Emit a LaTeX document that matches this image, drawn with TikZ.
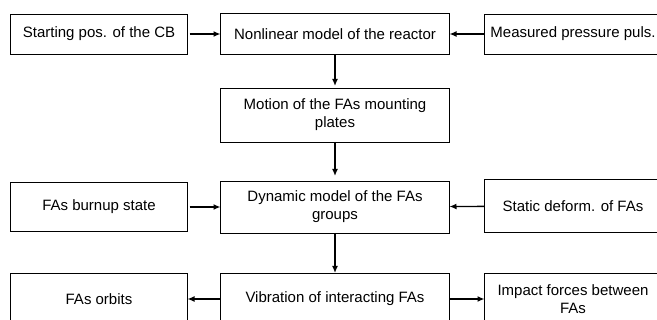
\documentclass[tikz,border=0pt]{standalone}
\usepackage{fontspec}
\setmainfont{Liberation Sans}
\usetikzlibrary{arrows.meta}

\begin{document}
\begin{tikzpicture}[x=1pt, y=-1pt,
    >={Latex[length=7pt,width=6pt]},
    block/.style = {
      draw,
      rectangle,
      align = center,
      inner sep = 2pt,
      outer sep = 0pt,
      line width = 0.9pt,
      font = \fontsize{15}{18}\selectfont
    },
    side/.style = {
      block,
      minimum width = 177pt
    },
    core/.style = {
      block,
      minimum width = 229pt
    },
    link/.style = {
      ->,
      line width = 1.3pt
    }
  ]
  \useasboundingbox (0,0) rectangle (657,320);
  \clip (0,0) rectangle (657,320);

  \node[side, minimum height=40pt] (cb)     at (99,34)  {Starting pos. of the CB};
  \node[core, minimum height=41pt] (model)  at (335,34) {Nonlinear model of the reactor};
  \node[side, minimum height=40pt] (press)  at (573,34) {Measured pressure puls.};

  \node[core, minimum height=54pt] (motion) at (335,115) {Motion of the FAs mounting\\plates};

  \node[side, minimum height=49pt] (burnup) at (99,207)  {FAs burnup state};
  \node[core, minimum height=52pt] (dyn)    at (335,207) {Dynamic model of the FAs\\groups};
  \node[side, minimum height=53pt] (static) at (573,206) {Static deform. of FAs};

  \node[side, minimum height=52pt] (orbits) at (99,299)  {FAs orbits};
  \node[core, minimum height=52pt] (vib)    at (335,299) {Vibration of interacting FAs};
  \node[side, minimum height=52pt] (impact) at (573,299) {Impact forces between\\FAs};

  \draw[link, shorten <=2pt] (cb) -- (model);
  \draw[link] (press) -- (model);
  \draw[link, shorten >=2pt] (model) -- (motion);
  \draw[link, shorten >=5pt] (motion) -- (dyn);
  \draw[link, shorten <=2pt] (burnup) -- (dyn);
  \draw[link] (static) -- (dyn);
  \draw[link] (dyn) -- (vib);
  \draw[link] (vib) -- (orbits);
  \draw[link] (vib) -- (impact);
\end{tikzpicture}
\end{document}
